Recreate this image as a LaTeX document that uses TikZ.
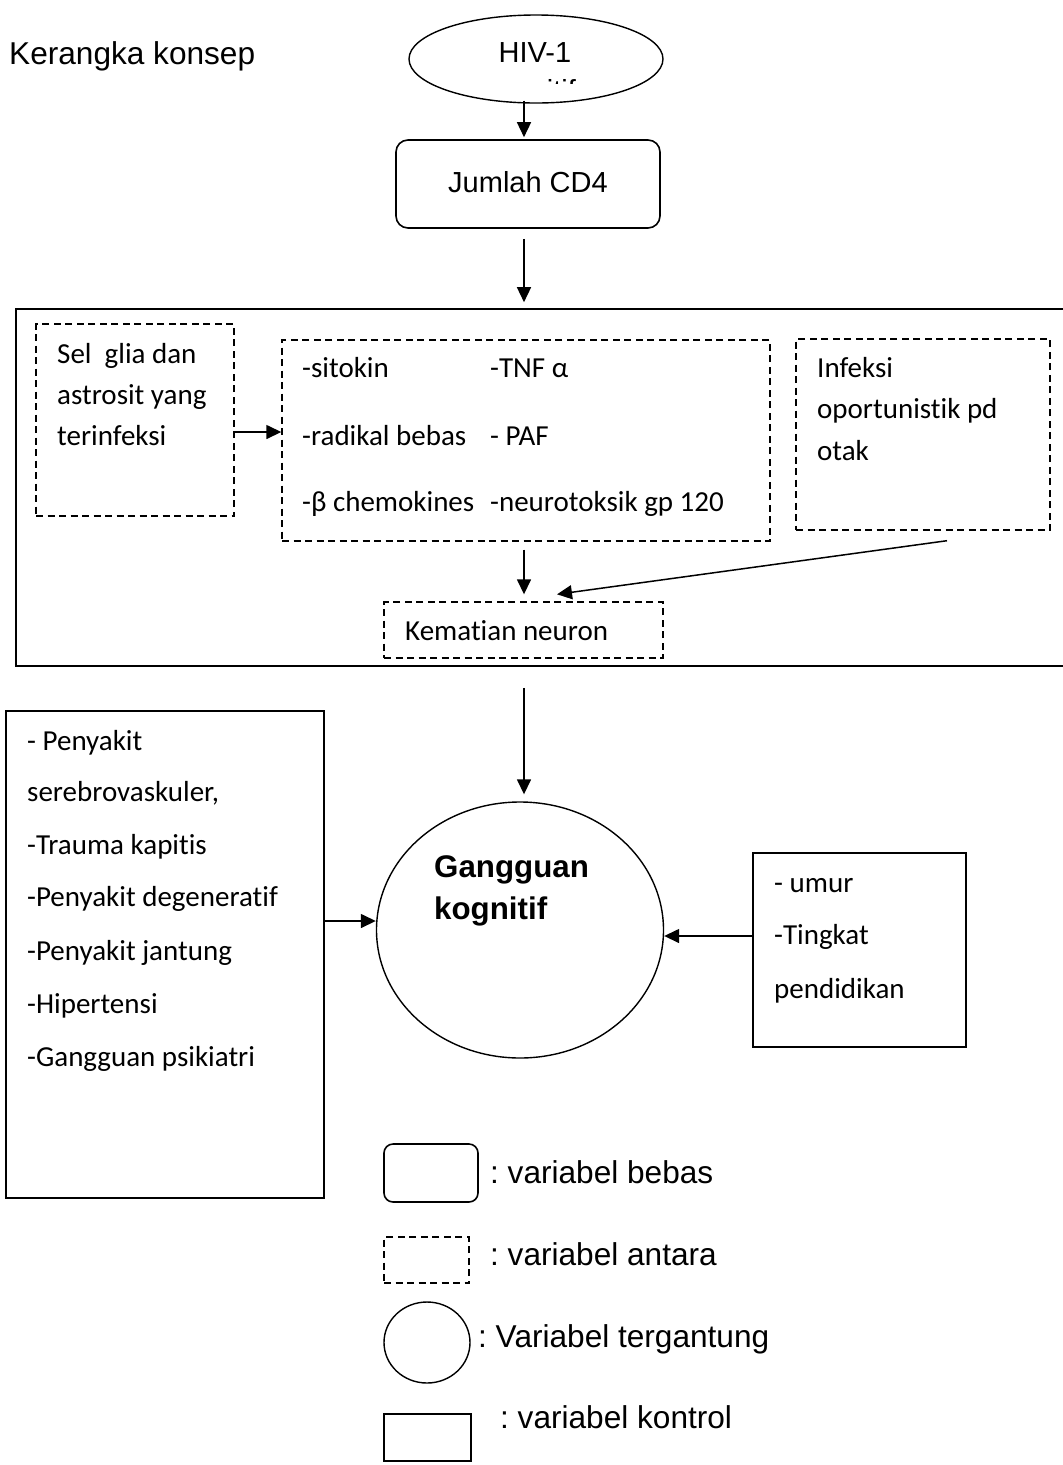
\documentclass[tikz,border=0pt]{standalone}
\usepackage{fontspec}
\setmainfont[Ligatures={NoCommon}]{Carlito}
\newfontfamily\arialf{Liberation Sans}
\usetikzlibrary{shapes.geometric,arrows.meta,calc}
\frenchspacing
\begin{document}
\begin{tikzpicture}[x=1pt,y=-1pt,
  sbox/.style={draw, line width=1.6pt, rectangle, inner sep=0pt},
  dbox/.style={draw, line width=1.4pt, rectangle, inner sep=0pt, dash pattern=on 7pt off 4.5pt},
  rbox/.style={draw, line width=1.6pt, rectangle, rounded corners=12pt, inner sep=0pt},
  ell/.style={draw, line width=1.4pt, ellipse, inner sep=0pt},
  arr/.style={-{Triangle[length=15pt,width=14pt]}, line width=1.5pt},
  txt/.style={inner sep=0pt, anchor=base west, font=\fontsize{29}{35}\selectfont},
  atxt/.style={inner sep=0pt, anchor=base, font=\arialf\fontsize{29}{35}\selectfont},
  ltxt/.style={inner sep=0pt, anchor=base west, font=\arialf\fontsize{31.6}{38}\selectfont},
  btxt/.style={inner sep=0pt, anchor=base west, font=\arialf\bfseries\fontsize{31.3}{38}\selectfont}
]
\useasboundingbox (0,0) rectangle (1063,1465);

% title
\node[ltxt] (title) at (9,64) {Kerangka konsep};

% HIV ellipse
\node[ell, minimum width=254pt, minimum height=88pt] (hiv) at (536,59) {};
\node[atxt] (hivt) at (535,62) {HIV-1};
\begin{scope}
  \clip (480,60) rectangle (600,83.5);
  \node[atxt] (post) at (538,100) {positif};
\end{scope}

% CD4 box
\node[rbox, minimum width=264pt, minimum height=88pt] (cd4) at (528,184) {};
\node[atxt] (cd4t) at (528,192) {Jumlah CD4};

% big box
\node[sbox, minimum width=1059pt, minimum height=357pt] (big) at (545.5,487.5) {};

% dashed boxes inside
\node[dbox, minimum width=198pt, minimum height=192pt] (glia) at (135,420) {};
\node[txt] (g1) at (57,363) {Sel\ \ glia dan};
\node[txt] (g2) at (57,404) {astrosit yang};
\node[txt] (g3) at (57,445) {terinfeksi};

\node[dbox, minimum width=488pt, minimum height=201pt] (fak) at (526,440.5) {};
\node[txt] (f1) at (302,377) {-sitokin};
\node[txt] (f2) at (490,377) {-TNF α};
\node[txt] (f3) at (302,445) {-radikal bebas};
\node[txt] (f4) at (490,445) {- PAF};
\node[txt] (f5) at (302,511) {-β chemokines};
\node[txt] (f6) at (490,511) {-neurotoksik gp 120};

\node[dbox, minimum width=254pt, minimum height=191pt] (inf) at (923,434.5) {};
\node[txt] (i1) at (817,377) {Infeksi};
\node[txt] (i2) at (817,418) {oportunistik pd};
\node[txt] (i3) at (817,460) {otak};

\node[dbox, minimum width=279pt, minimum height=56pt] (mati) at (523.5,630) {};
\node[txt] (mt) at (405,640) {Kematian neuron};

% circle
\node[ell, minimum width=287pt, minimum height=256pt] (circ) at (520,930) {};
\node[btxt] (c1) at (434,877) {Gangguan};
\node[btxt] (c2) at (434,919) {kognitif};

% control boxes
\node[sbox, minimum width=318pt, minimum height=487pt] (ctl) at (165,954.5) {};
\node[txt] (l1) at (27,750) {- Penyakit};
\node[txt] (l2) at (27,801) {serebrovaskuler,};
\node[txt] (l3) at (27,854) {-Trauma kapitis};
\node[txt] (l4) at (27,906) {-Penyakit degeneratif};
\node[txt] (l5) at (27,960) {-Penyakit jantung};
\node[txt] (l6) at (27,1013) {-Hipertensi};
\node[txt] (l7) at (27,1066) {-Gangguan psikiatri};

\node[sbox, minimum width=213pt, minimum height=194pt] (ctr) at (859.5,950) {};
\node[txt] (r1) at (774,892) {- umur};
\node[txt] (r2) at (774,944) {-Tingkat};
\node[txt] (r3) at (774,998) {pendidikan};

% legend
\node[rbox, rounded corners=9pt, minimum width=94pt, minimum height=58pt] (lg1) at (431,1173) {};
\node[ltxt] (lt1) at (490,1183) {: variabel bebas};
\node[dbox, minimum width=85pt, minimum height=46pt] (lg2) at (426.5,1260) {};
\node[ltxt] (lt2) at (490,1265) {: variabel antara};
\node[ell, minimum width=86pt, minimum height=81pt] (lg3) at (427,1342.5) {};
\node[ltxt] (lt3) at (478,1347) {: Variabel tergantung};
\node[sbox, minimum width=87pt, minimum height=47pt] (lg4) at (427.5,1437.5) {};
\node[ltxt] (lt4) at (500,1428) {: variabel kontrol};

% connector helper coordinates
\coordinate (ax) at (524,0);
\coordinate (ay) at (0,432);
\coordinate (ly) at (0,921);
\coordinate (ry) at (0,936);

% connectors
\draw[arr, shorten <=-3pt, shorten >=2pt] (hiv.south -| ax) -- (cd4.north -| ax);
\draw[arr, shorten <=10pt, shorten >=6pt] (cd4.south -| ax) -- (big.north -| ax);
\draw[arr, shorten <=21pt, shorten >=7pt] (big.south -| ax) -- (circ.north -| ax);
\draw[arr] (glia.east |- ay) -- (fak.west |- ay);
\draw[arr, shorten <=8pt, shorten >=7pt] (fak.south -| ax) -- (mati.north -| ax);
\draw[arr] ($(inf.south)+(24,10)$) -- ($(mati.north)+(33.5,-7)$);
\draw[arr] (ctl.east |- ly) -- (circ.west |- ly);
\draw[arr] (ctr.west |- ry) -- (circ.east |- ry);
\end{tikzpicture}
\end{document}
